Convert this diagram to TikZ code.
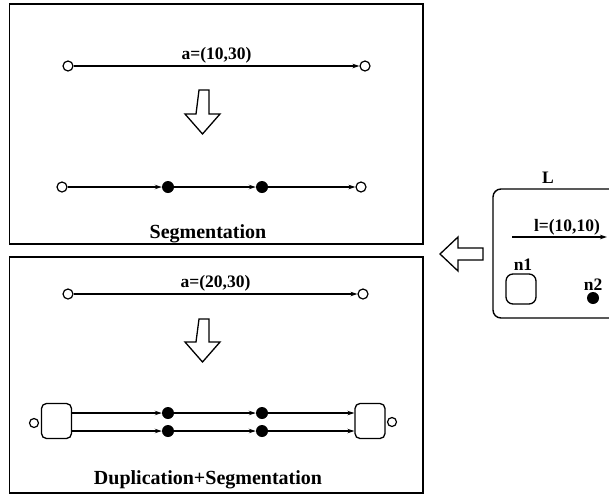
\documentclass[tikz,border=0pt]{standalone}
\usepackage{fontspec}
\setmainfont{Liberation Serif}
\usetikzlibrary{arrows.meta}
\begin{document}
\begin{tikzpicture}[x=1pt,y=-1pt,
  frame/.style={draw,line width=1.4pt},
  ocirc/.style={circle,draw,line width=1.2pt,fill=white,inner sep=0pt,minimum size=10pt},
  fdot/.style={circle,fill=black,inner sep=0pt,minimum size=12pt},
  rbox/.style={draw,line width=1.3pt,rounded corners=5pt,fill=white,inner sep=0pt,minimum width=30pt,minimum height=35pt},
  arr/.style={line width=1.3pt,-{Stealth[length=7pt,width=4.5pt]}},
  blockarrow/.style={draw,line width=1.3pt,fill=white,line join=miter},
  lab/.style={font=\bfseries\fontsize{17.5}{19}\selectfont,inner sep=1pt},
  captext/.style={font=\bfseries\fontsize{20}{23}\selectfont,inner sep=0pt,anchor=base}]
\clip (0,0) rectangle (609,498);
\useasboundingbox (0,0) rectangle (609,498);
% frames
\draw[frame] (9.5,4) rectangle (423,244);
\draw[frame] (9.5,257) rectangle (423,493);
% ---- top box
\node[ocirc] (a1) at (68,66) {};
\node[ocirc] (a2) at (365,66) {};
\draw[arr] (a1) -- (a2) node[lab,midway,above=1pt] {a=(10,30)};
\draw[blockarrow] (199,90) -- (209,90) -- (209,114) -- (220,114) -- (202.5,134) -- (185,114) -- (196,114) -- cycle;
\node[ocirc] (b1) at (62,187) {};
\node[fdot] (b2) at (168,187) {};
\node[fdot] (b3) at (262,187) {};
\node[ocirc] (b4) at (361,187) {};
\draw[arr] (b1) -- (b2);
\draw[arr] (b2) -- (b3);
\draw[arr] (b3) -- (b4);
\node[captext] (seg) at (208,238) {Segmentation};
% ---- bottom box
\node[ocirc] (c1) at (68,294) {};
\node[ocirc] (c2) at (363,294) {};
\draw[arr] (c1) -- (c2) node[lab,midway,above=1pt] {a=(20,30)};
\draw[blockarrow] (199,319) -- (209,319) -- (209,342) -- (220,342) -- (202.5,362) -- (185,342) -- (196,342) -- cycle;
\node[ocirc,minimum size=9pt] (e1) at (34,423) {};
\node[rbox] (r1) at (56.5,421) {};
\node[rbox] (r2) at (370,421) {};
\node[ocirc,minimum size=9pt] (e2) at (392,422) {};
\node[fdot] (d11) at (168,413) {};
\node[fdot] (d12) at (262,413) {};
\node[fdot] (d21) at (168,431) {};
\node[fdot] (d22) at (262,431) {};
\draw[arr] (r1.east |- d11) -- (d11);
\draw[arr] (d11) -- (d12);
\draw[arr] (d12) -- (r2.west |- d12);
\draw[arr] (r1.east |- d21) -- (d21);
\draw[arr] (d21) -- (d22);
\draw[arr] (d22) -- (r2.west |- d22);
\node[captext] (dup) at (208,484) {Duplication+Segmentation};
% ---- left-pointing block arrow
\draw[blockarrow] (483,248) -- (483,260) -- (458,260) -- (458,271) -- (440,254) -- (458,237) -- (458,248) -- cycle;
% ---- L box
\draw[frame,rounded corners=8pt] (493,189) rectangle (640,318);
\node[lab] (L) at (548,178) {L};
\coordinate (l1) at (512,237);
\coordinate (l2) at (607,237);
\draw[arr,line width=1.1pt] (l1) -- (l2);
\node[lab] (lab) at (567,227) {l=(10,10)};
\node[rbox,minimum width=30pt,minimum height=30pt,rounded corners=7pt] (n1) at (521,289) {};
\node[lab] (n1l) at (523,265) {n1};
\node[fdot] (n2) at (593,298) {};
\node[lab] (n2l) at (593,285) {n2};
\end{tikzpicture}
\end{document}
